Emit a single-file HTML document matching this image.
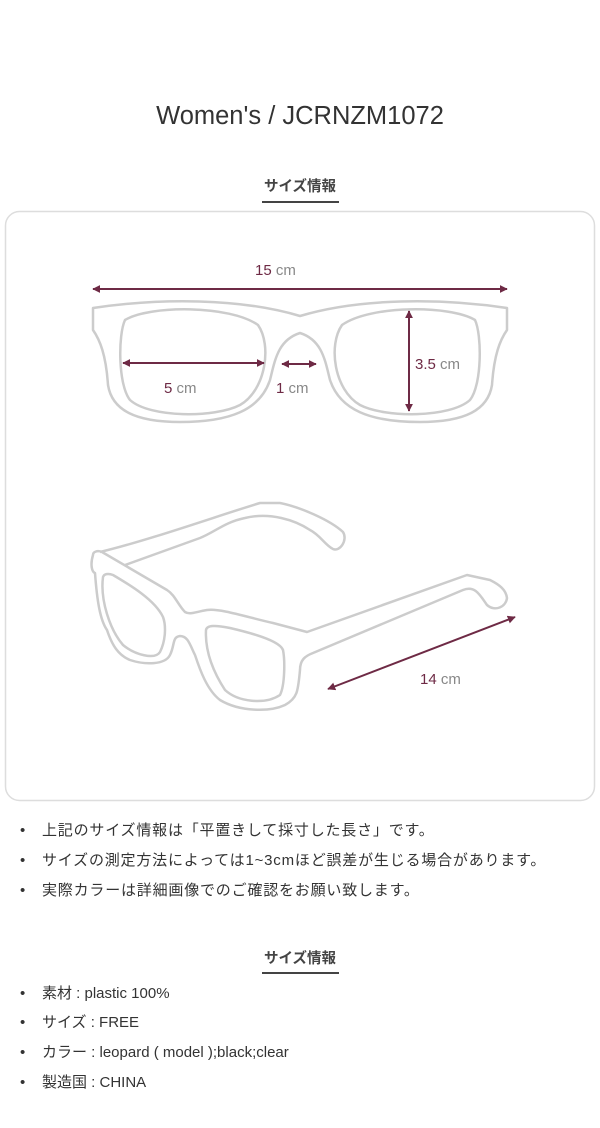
<!DOCTYPE html>
<html><head><meta charset="utf-8"><style>
html,body{margin:0;padding:0;background:#fff;}
svg{display:block;}
text{font-family:"Liberation Sans","Noto Sans CJK JP",sans-serif;}
.l{letter-spacing:0.8px;}
</style></head><body>
<svg width="600" height="1128" viewBox="0 0 600 1128" xmlns="http://www.w3.org/2000/svg">
<defs>
<marker id="a" viewBox="0 0 10 10" refX="9" refY="5" markerWidth="4" markerHeight="4" orient="auto-start-reverse"><path d="M0,0 L10,5 L0,10 z" fill="#6e2a45"/></marker>
</defs>
<text x="300" y="124" text-anchor="middle" font-size="25.5" fill="#333">Women's / JCRNZM1072</text>
<text x="300" y="191" text-anchor="middle" font-size="14.5" font-weight="bold" fill="#444">サイズ情報</text>
<rect x="262" y="201" width="77" height="2" fill="#444"/>
<rect x="5.5" y="211.5" width="589" height="589" rx="14" fill="#fff" stroke="#ddd" stroke-width="1.5"/>

<g fill="none" stroke="#ccc" stroke-width="2.5" stroke-linejoin="round">
<path d="M93,308 C160,298 240,298 300,316 C360,298 440,298 507,308 L507,330 C500,340 494,355 492,385 C488,410 465,422 420,422 C370,422 340,410 330,380 C325,360 322,340 300,333 C278,340 275,360 270,380 C260,410 230,422 180,422 C135,422 112,410 108,385 C106,355 100,340 93,330 Z"/>
<path d="M125,320 C150,305 230,305 258,325 C272,345 266,390 240,405 C215,418 150,418 130,400 C118,385 118,335 125,320 Z"/>
<path d="M475,320 C450,305 370,305 342,325 C328,345 334,390 360,405 C385,418 450,418 470,400 C482,385 482,335 475,320 Z"/>
<path d="M100,552 C150,540 220,515 260,503 L280,503 C300,507 330,520 343,532 C348,540 340,552 333,549 C325,545 320,535 310,530 C295,520 270,512 245,518 C225,522 215,532 200,538 L125,565"/>
<path d="M93,555 C90,565 92,572 95,573 C97,600 100,620 107,630 C112,645 118,655 130,660 C145,665 165,665 170,655 C175,645 172,637 180,636 C188,636 190,645 195,655 C200,670 207,690 220,700 C240,712 270,712 285,705 C298,698 298,690 300,670 C300,660 305,656 313,653 L463,590 C475,585 480,595 487,605 C495,612 506,607 507,598 C506,590 500,585 490,580 L467,575 L307,632 L273,623 C250,618 220,608 207,610 C195,612 190,615 185,612 C178,605 175,595 167,590 L102,552 C97,550 93,552 93,555 Z"/>
<path d="M103,577 C100,600 110,630 123,645 C135,655 155,660 160,652 C166,640 166,625 163,617 C155,600 130,585 113,575 C108,573 104,574 103,577 Z"/>
<path d="M206,630 C205,650 212,670 225,690 C238,702 265,705 280,695 C285,685 285,660 283,650 C280,642 260,635 230,628 C215,625 207,625 206,630 Z"/>
</g>

<g stroke="#6e2a45" stroke-width="2" fill="none">
<line x1="93" y1="289" x2="507" y2="289" marker-start="url(#a)" marker-end="url(#a)"/>
<line x1="123" y1="363" x2="264" y2="363" marker-start="url(#a)" marker-end="url(#a)"/>
<line x1="282" y1="364" x2="316" y2="364" marker-start="url(#a)" marker-end="url(#a)"/>
<line x1="409" y1="311" x2="409" y2="411" marker-start="url(#a)" marker-end="url(#a)"/>
<line x1="328" y1="689" x2="515" y2="617" marker-start="url(#a)" marker-end="url(#a)"/>
</g>
<g font-size="15">
<text x="255" y="275" fill="#6e2a45">15 <tspan fill="#888">cm</tspan></text>
<text x="164" y="393" fill="#6e2a45">5 <tspan fill="#888">cm</tspan></text>
<text x="276" y="393" fill="#6e2a45">1 <tspan fill="#888">cm</tspan></text>
<text x="415" y="369" fill="#6e2a45">3.5 <tspan fill="#888">cm</tspan></text>
<text x="420" y="684" fill="#6e2a45">14 <tspan fill="#888">cm</tspan></text>
</g>

<g font-size="15" fill="#333">
<text x="20" y="835">•</text><text class="l" x="42" y="835">上記のサイズ情報は「平置きして採寸した長さ」です。</text>
<text x="20" y="865">•</text><text class="l" x="42" y="865">サイズの測定方法によっては1~3cmほど誤差が生じる場合があります。</text>
<text x="20" y="895">•</text><text class="l" x="42" y="895">実際カラーは詳細画像でのご確認をお願い致します。</text>
</g>
<text x="300" y="963" text-anchor="middle" font-size="14.5" font-weight="bold" fill="#444">サイズ情報</text>
<rect x="262" y="972" width="77" height="2" fill="#444"/>
<g font-size="15" fill="#333">
<text x="20" y="998">•</text><text x="42" y="998">素材 : plastic 100%</text>
<text x="20" y="1027">•</text><text x="42" y="1027">サイズ : FREE</text>
<text x="20" y="1057">•</text><text x="42" y="1057">カラー : leopard ( model );black;clear</text>
<text x="20" y="1087">•</text><text x="42" y="1087">製造国 : CHINA</text>
</g>
</svg>
</body></html>
